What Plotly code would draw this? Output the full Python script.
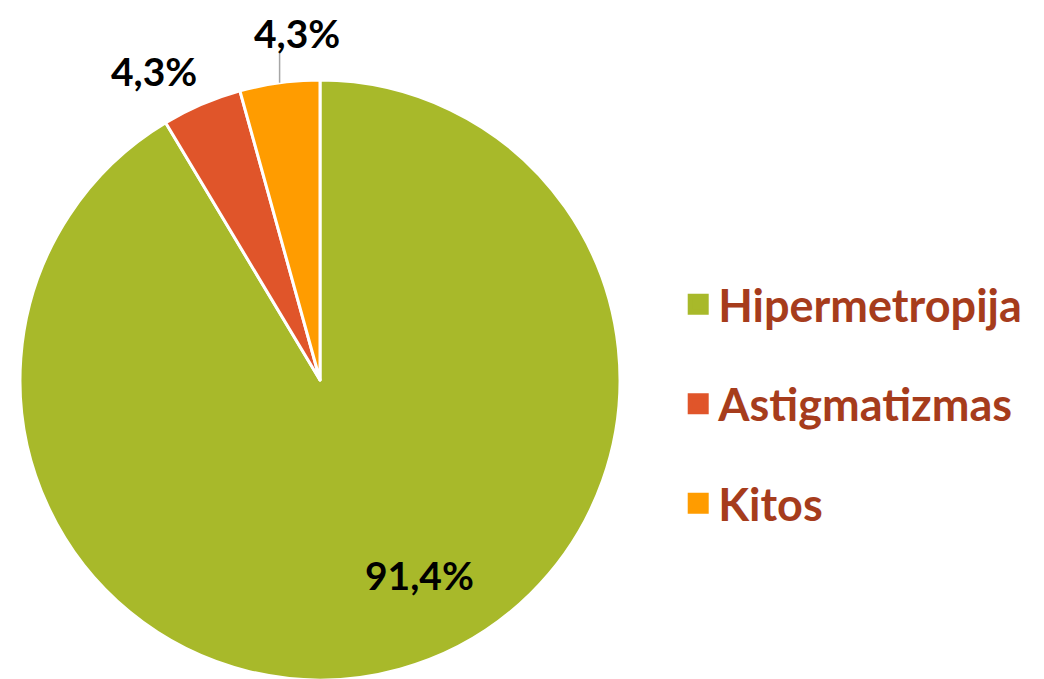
import math
import plotly.graph_objects as go

categories = ["Hipermetropija", "Astigmatizmas", "Kitos"]
values = [91.4, 4.3, 4.3]
value_labels = ["91,4%", "4,3%", "4,3%"]
colors = ["#A8B92A", "#E0552A", "#FF9C00"]

W, H = 1044, 679
ML, MR, MT, MB = 12, 0, 72, 7
plot_w = W - ML - MR
plot_h = H - MT - MB
dom_x = [0, 600 / plot_w]

fig = go.Figure()
fig.add_trace(go.Pie(
    labels=categories,
    values=values,
    textinfo="none",
    sort=False,
    direction="clockwise",
    rotation=0,
    marker=dict(colors=colors, line=dict(color="white", width=3)),
    domain=dict(x=dom_x, y=[0, 1]),
    hoverinfo="skip",
    showlegend=False,
))

# legend entries
for cat, col in zip(categories, colors):
    fig.add_trace(go.Scatter(
        x=[None], y=[None], mode="markers", name=cat, legendgroup=cat,
        marker=dict(symbol="square", size=16, color=col, line=dict(color=col, width=5)),
        showlegend=True, hoverinfo="skip",
    ))

# label positions derived from slice angles
cx = (dom_x[0] + dom_x[1]) / 2
cy = 0.5
R = min(plot_w * (dom_x[1] - dom_x[0]), plot_h) / 2
rx = R / plot_w
ry = R / plot_h
total = sum(values)
cum = 0
mids = []
for v in values:
    mids.append((cum + v / 2) / total * 360)
    cum += v

def pt(angle_deg, rfrac):
    a = math.radians(angle_deg)
    return cx + rfrac * rx * math.sin(a), cy + rfrac * ry * math.cos(a)

lab_font = dict(family="Lato", size=39, color="black", weight="bold")
annotations = []
# big slice label (inside)
x0, y0 = pt(mids[0] - 11.5, 0.73)
annotations.append(dict(x=x0, y=y0, xref="paper", yref="paper", text=value_labels[0],
                        showarrow=False, font=lab_font, xanchor="center", yanchor="middle"))
# Astigmatizmas (outside, no leader)
x1, y1 = pt(mids[1] - 5, 1.17)
annotations.append(dict(x=x1, y=y1, xref="paper", yref="paper", text=value_labels[1],
                        showarrow=False, font=lab_font, xanchor="center", yanchor="middle"))
# Kitos (outside, with leader line)
x2, y2 = pt(mids[2], 1.0)
annotations.append(dict(x=x2, y=y2, xref="paper", yref="paper", text="",
                        showarrow=True, arrowhead=0, arrowwidth=1.5, arrowcolor="#A6A6A6",
                        ax=0, ay=-33, standoff=0))
annotations.append(dict(x=x2, y=y2 + 33 / plot_h, xref="paper", yref="paper", text=value_labels[2],
                        showarrow=False, font=lab_font, xanchor="center", yanchor="middle",
                        xshift=17, yshift=17))

fig.update_layout(
    width=W,
    height=H,
    margin=dict(l=ML, r=MR, t=MT, b=MB),
    paper_bgcolor="white",
    plot_bgcolor="white",
    xaxis=dict(visible=False),
    yaxis=dict(visible=False),
    showlegend=True,
    annotations=annotations,
    legend=dict(
        x=0.6378, y=0.46, xanchor="left", yanchor="middle",
        font=dict(family="Lato", size=45, color="#A63C1C", weight="bold"),
        tracegroupgap=38,
        traceorder="grouped",
        itemsizing="trace",
    ),
)

fig.write_html("out.html")
